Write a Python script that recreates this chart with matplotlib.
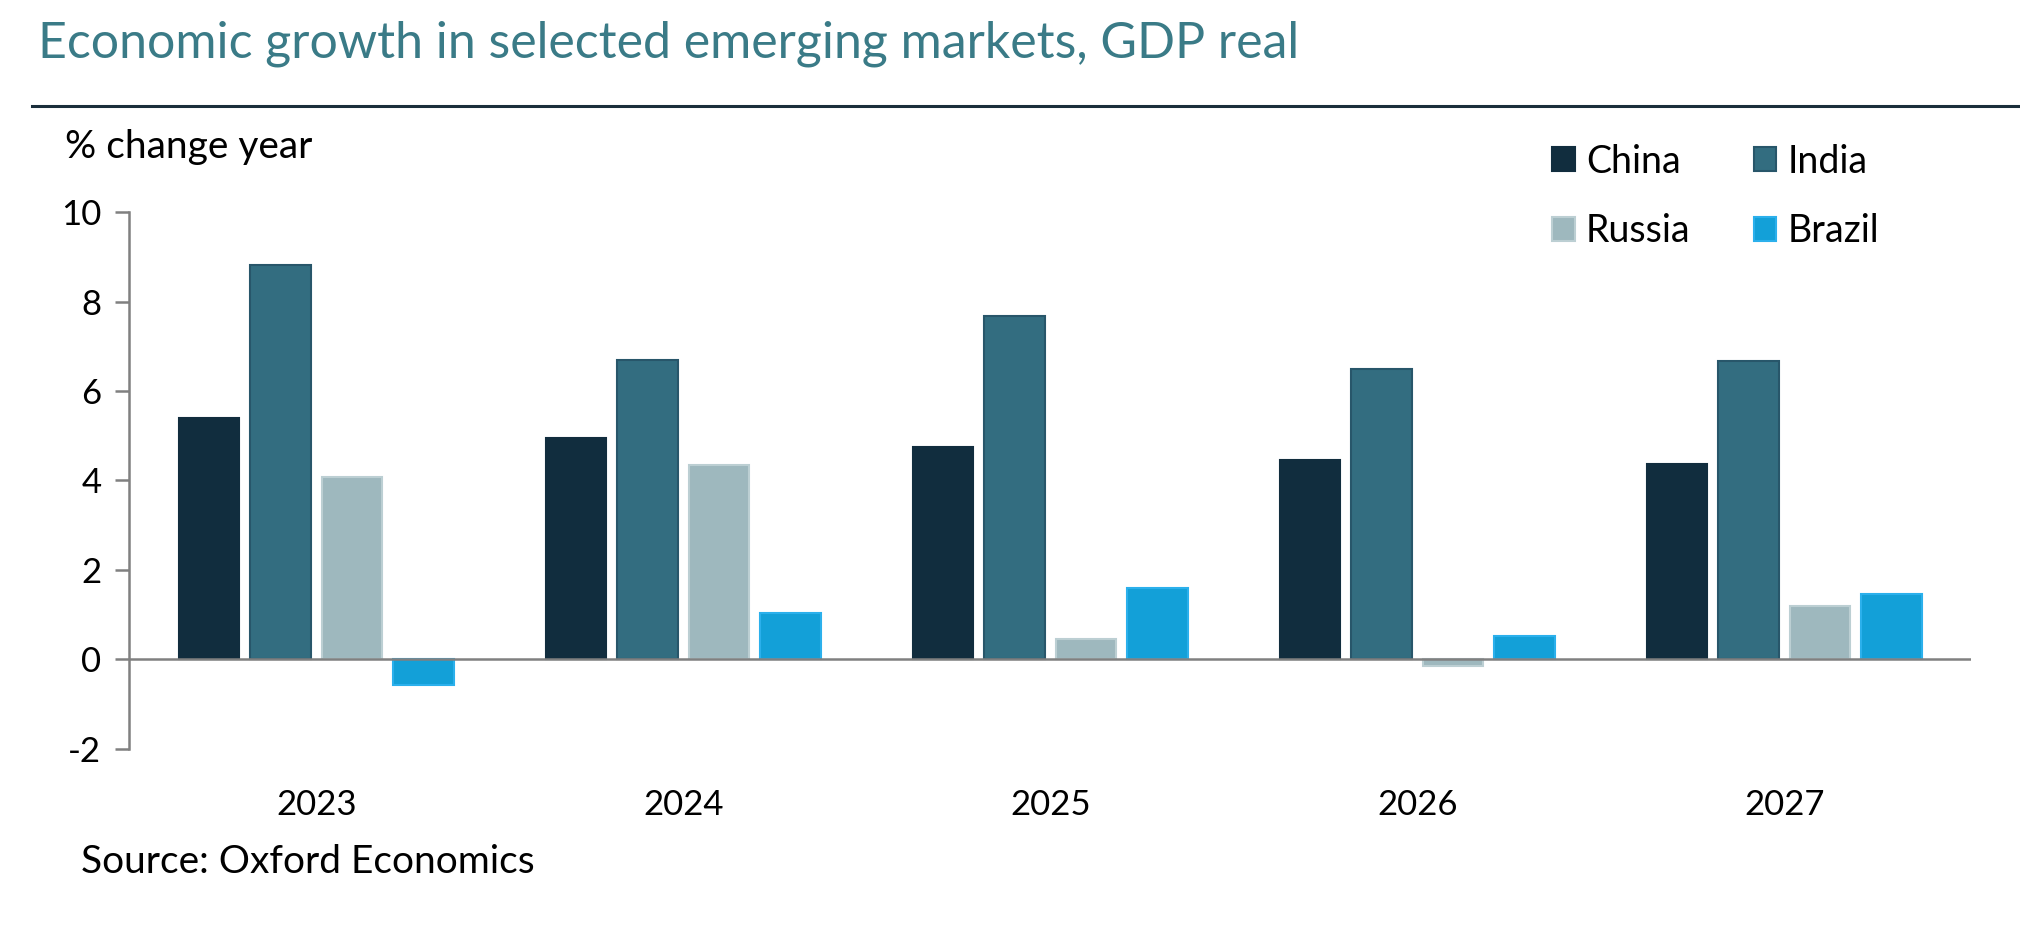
import matplotlib.pyplot as plt
import matplotlib.patches as mpatches
import numpy as np

plt.rcParams['font.family'] = ['Lato', 'DejaVu Sans']
plt.rcParams['axes.unicode_minus'] = False

years = ['2023', '2024', '2025', '2026', '2027']
countries = ['China', 'India', 'Russia', 'Brazil']
china = [5.4, 4.94, 4.74, 4.45, 4.36]
india = [8.82, 6.7, 7.69, 6.5, 6.68]
russia = [4.08, 4.34, 0.46, -0.15, 1.18]
brazil = [-0.58, 1.04, 1.59, 0.52, 1.45]

fills = ['#112d3e', '#336d80', '#9eb8be', '#13a0d8']
edges = ['#112d3e', '#28566a', '#bccfd3', '#2bb0ec']

fig = plt.figure(figsize=(20.2, 9.38), dpi=100)
ax = fig.add_axes([0.0639, 0.202, 0.912, 0.5716])

x = np.arange(len(years))
step = 0.195
width = 0.165
for i, (name, vals) in enumerate(zip(countries, [china, india, russia, brazil])):
    ax.bar(x + (i - 1.5) * step, vals, width, color=fills[i],
           edgecolor=edges[i], linewidth=1.5, label=name, zorder=2)

ax.axhline(0, color='#808080', lw=1.8, zorder=3)
ax.set_ylim(-2, 10)
ax.set_xlim(-0.51, 4.51)
ax.set_yticks(range(-2, 11, 2))
ax.set_xticks(x)
ax.set_xticklabels(years)
ax.tick_params(axis='x', length=0, labelsize=25, pad=29)
ax.tick_params(axis='y', length=10, width=1.8, color='#808080',
               labelsize=25, pad=10)
for s in ['top', 'right', 'bottom']:
    ax.spines[s].set_visible(False)
ax.spines['left'].set_color('#808080')
ax.spines['left'].set_linewidth(1.8)

# title, rule, notes
fig.text(0.019, 0.953, 'Economic growth in selected emerging markets, GDP real',
         fontsize=36, color='#3a7b87', va='center', ha='left')
fig.add_artist(plt.Line2D([0.016, 1.0], [0.8874, 0.8874], color='#1a2e3b',
                          lw=2.2, transform=fig.transFigure))
fig.text(0.032, 0.843, '% change year', fontsize=28, va='center', ha='left')
fig.text(0.040, 0.081, 'Source: Oxford Economics', fontsize=28,
         va='center', ha='left')

handles = [mpatches.Patch(facecolor=fills[i], edgecolor=edges[i], lw=1.5)
           for i in range(4)]
# order so rows read China/India, Russia/Brazil
order = [0, 2, 1, 3]
fig.legend([handles[i] for i in order], [countries[i] for i in order],
           ncol=2, loc='upper left', bbox_to_anchor=(0.7685, 0.847),
           frameon=False, fontsize=27, handlelength=0.6, handleheight=0.6,
           handletextpad=0.3, columnspacing=1.68, labelspacing=0.89,
           borderaxespad=0, borderpad=0)

fig.savefig('out.png', dpi=100, facecolor='white')
